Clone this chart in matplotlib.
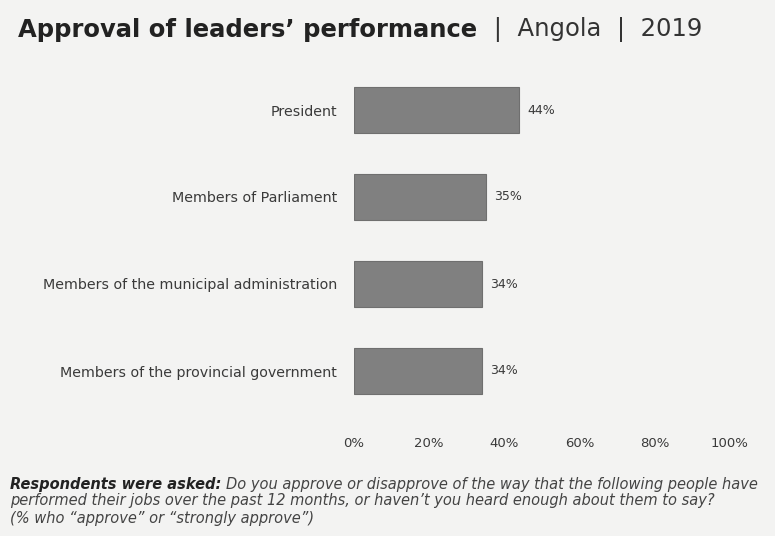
import matplotlib
matplotlib.use("Agg")
import matplotlib.pyplot as plt

# data
categories = ["President", "Members of Parliament",
              "Members of the municipal administration",
              "Members of the provincial government"]
approval = [44, 35, 34, 34]
xticks = [0, 20, 40, 60, 80, 100]

plt.rcParams["font.family"] = ["DejaVu Sans"]
BG = "#f3f3f2"
TXT = "#3a3a3a"
W, H = 775, 536

fig = plt.figure(figsize=(7.75, 5.36), dpi=100, facecolor=BG)
ax = fig.add_axes([354 / W, 1 - 414.5 / H, 376 / W, 348 / H], facecolor=BG)

ypos = list(range(len(categories)))
ax.barh(ypos, approval, height=0.54, color="#808080", edgecolor="#6f6f6f", lw=0.8)
for y, v in zip(ypos, approval):
    ax.text(v + 2.2, y, f"{v}%", va="center", ha="left", fontsize=9, color=TXT)

ax.set_xlim(0, 100)
ax.set_ylim(len(categories) - 0.5, -0.5)
ax.set_yticks(ypos)
ax.set_yticklabels(categories, fontsize=10.3, color=TXT)
ax.set_xticks(xticks)
ax.set_xticklabels([f"{t}%" for t in xticks], fontsize=9.5, color=TXT)
ax.tick_params(length=0, pad=12)
ax.tick_params(axis="x", pad=16)
for s in ax.spines.values():
    s.set_visible(False)

renderer = fig.canvas.get_renderer()


def run_text(x, y, parts, **kw):
    """draw text pieces one after the other on a line, x/y in pixels from top-left"""
    for s, extra in parts:
        t = fig.text(x / W, 1 - y / H, s, va="center", ha="left", **kw, **extra)
        x = t.get_window_extent(renderer).x1
    return x


run_text(18, 30, [("Approval of leaders\u2019 performance ", dict(fontweight="bold", color="#222222")),
                  (" |  Angola  |  2019", dict(color="#333333"))], fontsize=17.5)

note = dict(fontsize=10.5, style="italic")
run_text(10, 484, [("Respondents were asked: ", dict(fontweight="bold", color="#222222")),
                   ("Do you approve or disapprove of the way that the following people have",
                    dict(color="#444444"))], **note)
run_text(10, 501, [("performed their jobs over the past 12 months, or haven\u2019t you heard enough about them to say?",
                    dict(color="#444444"))], **note)
run_text(10, 518, [("(% who \u201capprove\u201d or \u201cstrongly approve\u201d)", dict(color="#444444"))], **note)

fig.savefig("out.png", dpi=100, facecolor=BG)
